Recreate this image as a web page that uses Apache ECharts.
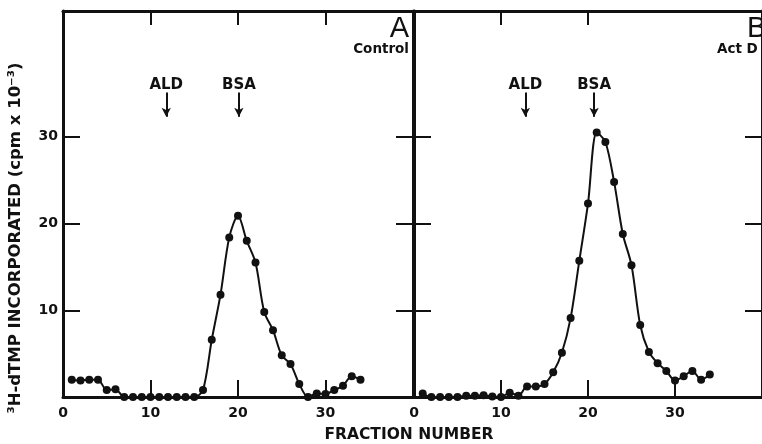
<!DOCTYPE html>
<html>
<head>
<meta charset="utf-8">
<script src="https://cdn.jsdelivr.net/npm/echarts@6/dist/echarts.min.js"></script>
<style>
  html, body { margin: 0; padding: 0; background: #ffffff; }
  #chart { width: 762px; height: 444px; }
</style>
</head>
<body>
<div id="chart"></div>
<script>
// Fraction numbers collected from the column
const fractions = [1, 2, 3, 4, 5, 6, 7, 8, 9, 10, 11, 12, 13, 14, 15, 16, 17,
                   18, 19, 20, 21, 22, 23, 24, 25, 26, 27, 28, 29, 30, 31, 32, 33, 34];

// 3H-dTMP incorporated (cpm x 10^-3), panel A: control
const controlCpm = [2.0, 1.9, 2.0, 2.0, 0.8, 0.9, 0, 0, 0, 0, 0, 0, 0, 0, 0, 0.8, 6.6,
                    11.8, 18.4, 20.9, 18.0, 15.5, 9.8, 7.7, 4.8, 3.8, 1.5, 0, 0.4, 0.35, 0.8, 1.3, 2.4, 2.0];

// Panel B: Act D
const actDCpm = [0.4, 0, 0, 0, 0, 0.15, 0.15, 0.2, 0.05, 0, 0.5, 0.15, 1.2, 1.2, 1.5, 2.85, 5.1,
                 9.1, 15.7, 22.3, 30.5, 29.4, 24.8, 18.8, 15.2, 8.3, 5.2, 3.9, 3.0, 1.9, 2.4, 3.0, 2.0, 2.6];

// Marker proteins (elution positions, fraction number)
const markerNames = ['ALD', 'BSA'];
const markerPosA = [11.8, 20.1];
const markerPosB = [12.8, 20.7];

// Axis ticks and labels
const xTickValues = [10, 20, 30];
const xLabelValues = [0, 10, 20, 30];
const xTopTicksB = [10, 20];
const yTickValues = [10, 20, 30];

const FONT = '"DejaVu Sans", Verdana, sans-serif';
const INK = '#111111';

function pairs(ys) {
  return fractions.map((f, i) => [f, ys[i]]);
}

function xAxisPair(grid, topTicks) {
  return [
    {
      gridIndex: grid, type: 'value', position: 'bottom', min: 0, max: 40,
      axisLine: { onZero: false, lineStyle: { color: INK, width: 3 } },
      axisTick: { show: true, inside: true, length: 17, customValues: xTickValues,
                  lineStyle: { color: INK, width: 2 } },
      axisLabel: { show: true, customValues: xLabelValues, margin: 9,
                   color: INK, fontFamily: FONT, fontWeight: 'bold', fontSize: 14 },
      splitLine: { show: false }
    },
    {
      gridIndex: grid, type: 'value', position: 'top', min: 0, max: 40,
      axisLine: { onZero: false, lineStyle: { color: INK, width: 3 } },
      axisTick: { show: true, inside: true, length: 14, customValues: topTicks,
                  lineStyle: { color: INK, width: 2 } },
      axisLabel: { show: false },
      splitLine: { show: false }
    }
  ];
}

function yAxisPair(grid, withLabels) {
  return [
    {
      gridIndex: grid, type: 'value', position: 'left', min: 0, max: 44.5,
      axisLine: { show: true, onZero: false, lineStyle: { color: INK, width: 3 } },
      axisTick: { show: true, inside: true, length: 17, customValues: yTickValues,
                  lineStyle: { color: INK, width: 2 } },
      axisLabel: { show: withLabels, customValues: yTickValues, margin: 5,
                   color: INK, fontFamily: FONT, fontWeight: 'bold', fontSize: 14 },
      splitLine: { show: false }
    },
    {
      gridIndex: grid, type: 'value', position: 'right', min: 0, max: 44.5,
      axisLine: { show: true, onZero: false, lineStyle: { color: INK, width: 3 } },
      axisTick: { show: true, inside: true, length: 17, customValues: yTickValues,
                  lineStyle: { color: INK, width: 2 } },
      axisLabel: { show: false },
      splitLine: { show: false }
    }
  ];
}

function markerLines(positions) {
  return {
    silent: true,
    symbol: ['none', 'arrow'],
    symbolSize: [7, 9],
    lineStyle: { color: INK, width: 2, type: 'solid' },
    label: { show: true, position: 'start', distance: 0, formatter: '{b}',
             color: INK, fontFamily: FONT, fontWeight: 'bold', fontSize: 15 },
    data: positions.map((x, i) => [
      { coord: [x, 35.1], name: markerNames[i] },
      { coord: [x, 32.3] }
    ])
  };
}

function profileSeries(grid, ys, positions) {
  return {
    type: 'line',
    xAxisIndex: grid * 2, yAxisIndex: grid * 2,
    data: pairs(ys),
    smooth: 0.3,
    clip: false,
    symbol: 'circle', symbolSize: 8,
    itemStyle: { color: INK },
    lineStyle: { color: INK, width: 2 },
    markLine: markerLines(positions),
    z: 5
  };
}

const chart = echarts.init(document.getElementById('chart'), null, { renderer: 'canvas' });

chart.setOption({
  backgroundColor: '#ffffff',
  animation: false,
  grid: [
    { left: 63, top: 11, width: 350, height: 386 },
    { left: 414, top: 11, width: 356, height: 386 }
  ],
  xAxis: [].concat(xAxisPair(0, xTickValues), xAxisPair(1, xTopTicksB)),
  yAxis: [].concat(yAxisPair(0, true), yAxisPair(1, false)),
  series: [
    profileSeries(0, controlCpm, markerPosA),
    profileSeries(1, actDCpm, markerPosB)
  ],
  graphic: [
    { type: 'text', x: 16, y: 238, rotation: Math.PI / 2,
      style: { text: '³H-dTMP INCORPORATED (cpm x 10⁻³)', fill: INK,
               font: 'bold 16.5px ' + FONT, textAlign: 'center', textVerticalAlign: 'middle' } },
    { type: 'text', x: 409, y: 435,
      style: { text: 'FRACTION NUMBER', fill: INK,
               font: 'bold 15.5px ' + FONT, textAlign: 'center', textVerticalAlign: 'middle' } },
    { type: 'text', x: 409, y: 14,
      style: { text: 'A', fill: INK, font: '29px "Liberation Sans", Arial, sans-serif', textAlign: 'right', textVerticalAlign: 'top' } },
    { type: 'text', x: 409, y: 42,
      style: { text: 'Control', fill: INK, font: 'bold 13.5px ' + FONT, textAlign: 'right', textVerticalAlign: 'top' } },
    { type: 'text', x: 747, y: 14,
      style: { text: 'B', fill: INK, font: '29px "Liberation Sans", Arial, sans-serif', textAlign: 'left', textVerticalAlign: 'top' } },
    { type: 'text', x: 717, y: 42,
      style: { text: 'Act D', fill: INK, font: 'bold 13.5px ' + FONT, textAlign: 'left', textVerticalAlign: 'top' } }
  ]
});
</script>
</body>
</html>
